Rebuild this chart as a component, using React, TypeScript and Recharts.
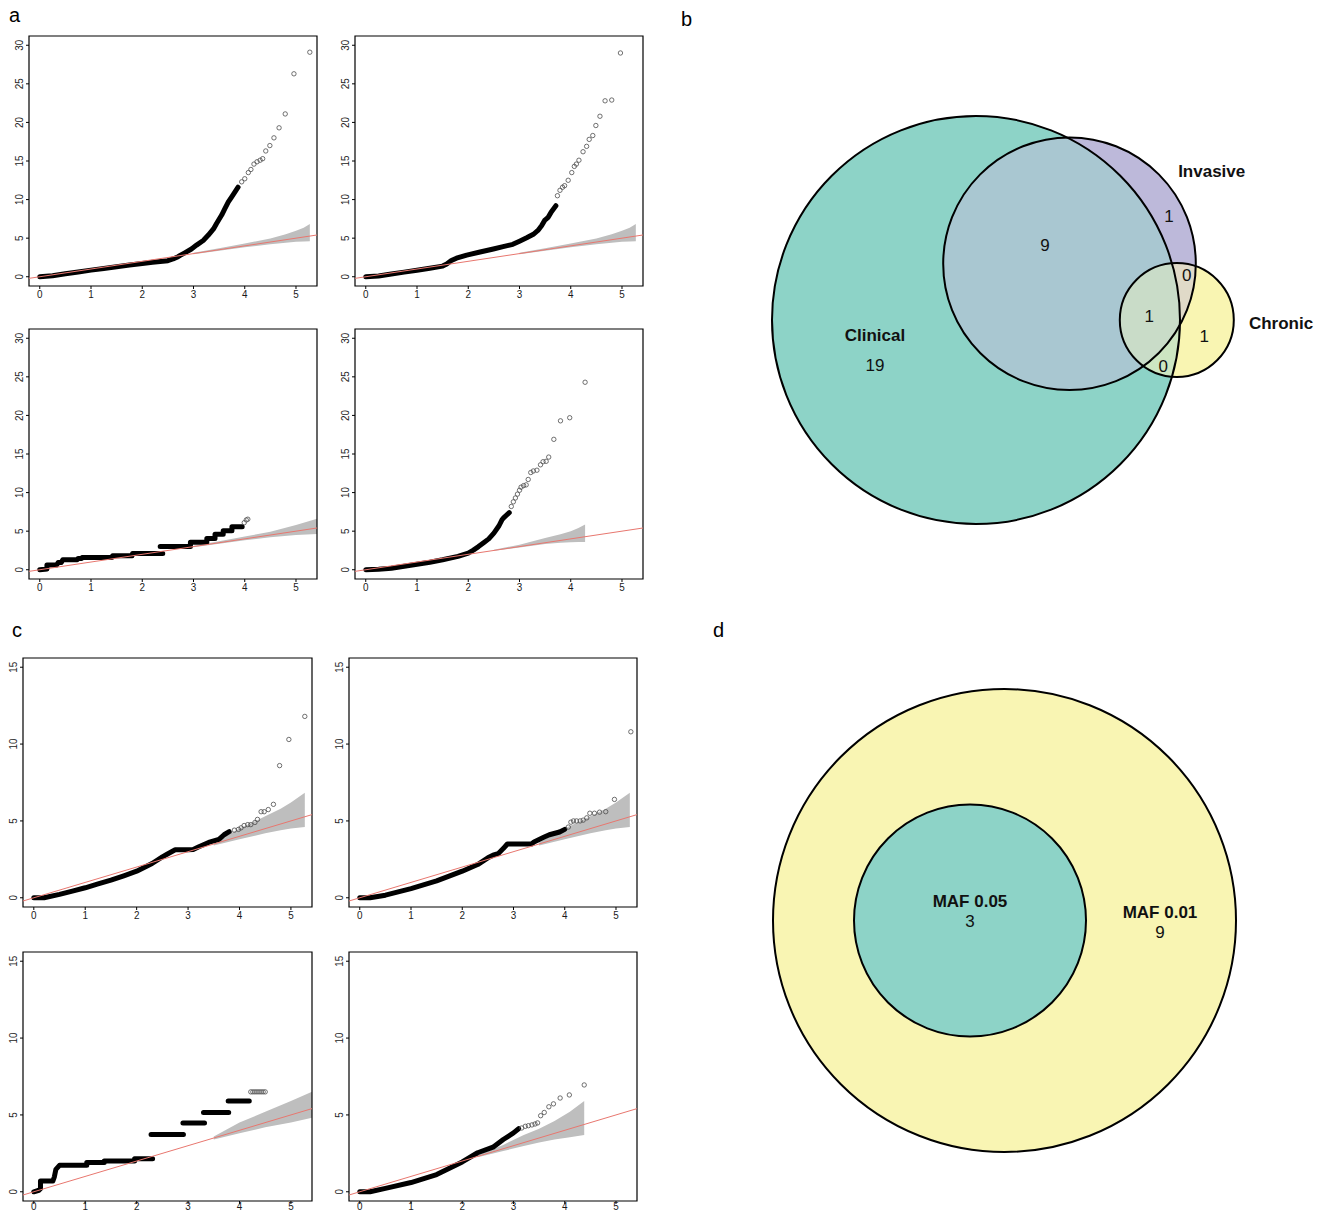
import React from "react"
import {
  ComposedChart, ScatterChart, Scatter, Line, Area,
  XAxis, YAxis, ReferenceArea,
} from "recharts"

// ─── Shared style ─────────────────────────────────────────────────────────────
const FONT = '"Liberation Sans", Arial, Helvetica, sans-serif'
const RED = "#e8776f"
const BAND = "#bebebe"
const TAIL = "#4d4d4d"
const PAGE_H = 1211

// ─── QQ axes ──────────────────────────────────────────────────────────────────
const X_DOMAIN: [number, number] = [-0.21, 5.41]
const X_TICKS = [0, 1, 2, 3, 4, 5]
const Y_DOMAIN_A: [number, number] = [-1.2, 31.2]
const Y_TICKS_A = [0, 5, 10, 15, 20, 25, 30]
const Y_DOMAIN_C: [number, number] = [-0.6, 15.6]
const Y_TICKS_C = [0, 5, 10, 15]

// y = x reference line
const ABLINE: [number, number][] = [[-0.21, -0.21], [5.41, 5.41]]

type Pt = [number, number | null]
type Band = [number, number, number]

// ─── Panel a (observed vs expected -log10 p) ──────────────────────────────────
const aTLDense: Pt[] = [
  [0, 0], [0.25, 0.12], [0.5, 0.38], [0.75, 0.62], [1, 0.86], [1.25, 1.08], [1.5, 1.3],
  [1.75, 1.52], [2, 1.72], [2.2, 1.88], [2.4, 2.0], [2.5, 2.08], [2.6, 2.3], [2.7, 2.6],
  [2.74, 2.76], [2.83, 3.1], [2.96, 3.6], [3.06, 4.1], [3.19, 4.7], [3.29, 5.4], [3.39, 6.2],
  [3.45, 6.9], [3.55, 8.0], [3.61, 8.8], [3.68, 9.7], [3.74, 10.3], [3.81, 11.0], [3.87, 11.6],
]
const aTLTail: Pt[] = [
  [3.94, 12.3], [4.0, 12.7], [4.07, 13.5], [4.12, 13.9], [4.18, 14.6], [4.24, 14.9],
  [4.3, 15.1], [4.35, 15.3], [4.41, 16.3], [4.49, 17.0], [4.57, 18.0], [4.67, 19.3],
  [4.79, 21.1], [4.96, 26.3], [5.27, 29.1],
]
const aTLBand: Band[] = [
  [3.0, 2.92, 3.1], [3.5, 3.38, 3.68], [4.0, 3.82, 4.3], [4.5, 4.22, 4.95],
  [4.8, 4.42, 5.5], [5.0, 4.52, 5.95], [5.15, 4.58, 6.35], [5.27, 4.6, 6.85],
]

const aTRDense: Pt[] = [
  [0, 0], [0.25, 0.1], [0.5, 0.35], [0.75, 0.6], [1, 0.85], [1.25, 1.1], [1.5, 1.38],
  [1.58, 1.65], [1.67, 2.1], [1.77, 2.4], [1.97, 2.8], [2.23, 3.2], [2.49, 3.6], [2.68, 3.9],
  [2.87, 4.2], [3.0, 4.6], [3.14, 5.05], [3.27, 5.5], [3.36, 6.0], [3.43, 6.6], [3.49, 7.3],
  [3.56, 7.7], [3.62, 8.4], [3.71, 9.2],
]
const aTRTail: Pt[] = [
  [3.74, 10.5], [3.79, 11.2], [3.84, 11.6], [3.88, 11.8], [3.95, 12.5], [4.02, 13.5],
  [4.07, 14.3], [4.11, 14.6], [4.16, 15.1], [4.24, 16.2], [4.31, 16.9], [4.36, 17.8],
  [4.43, 18.3], [4.49, 19.6], [4.57, 20.8], [4.67, 22.8], [4.8, 22.9], [4.97, 29.0],
]
const aTRBand: Band[] = aTLBand

const aBLDense: Pt[] = [
  [0, 0], [0.1, 0.05], [0.14, 0.1], [0.14, 0.6], [0.33, 0.6], [0.36, 0.95], [0.42, 0.95],
  [0.45, 1.3], [0.73, 1.3], [0.75, 1.47], [0.82, 1.47], [0.83, 1.6], [1.41, 1.6], [1.42, 1.8],
  [1.8, 1.8], [1.81, 2.1], [2.4, 2.1], [2.4, null],
  [2.35, 3.0], [2.94, 3.0], [2.94, 3.55], [3.26, 3.55], [3.26, 4.06], [3.42, 4.06],
  [3.42, 4.6], [3.58, 4.6], [3.58, 5.06], [3.75, 5.06], [3.75, 5.58], [3.95, 5.58],
]
const aBLTail: Pt[] = [[3.99, 6.1], [4.03, 6.45], [4.06, 6.55]]
const aBLBand: Band[] = [
  [3.0, 2.92, 3.1], [3.5, 3.38, 3.68], [4.0, 3.82, 4.3], [4.5, 4.22, 4.92],
  [5.0, 4.5, 5.8], [5.41, 4.62, 6.6],
]

const aBRDense: Pt[] = [
  [0, 0], [0.25, 0.05], [0.5, 0.2], [0.75, 0.45], [1, 0.7], [1.25, 0.98], [1.5, 1.3],
  [1.8, 1.73], [2.0, 2.16], [2.1, 2.55], [2.2, 3.0], [2.3, 3.5], [2.4, 4.0], [2.5, 4.75],
  [2.6, 5.7], [2.66, 6.5], [2.7, 6.8], [2.8, 7.4],
]
const aBRTail: Pt[] = [
  [2.84, 8.2], [2.88, 8.8], [2.92, 9.3], [2.96, 9.8], [3.0, 10.3], [3.03, 10.7], [3.08, 10.9],
  [3.13, 11.0], [3.17, 11.7], [3.22, 12.6], [3.27, 12.8], [3.34, 12.9], [3.41, 13.6],
  [3.46, 14.0], [3.52, 14.05], [3.57, 14.6], [3.67, 16.9], [3.8, 19.3], [3.98, 19.7], [4.28, 24.3],
]
const aBRBand: Band[] = [
  [2.5, 2.45, 2.6], [3.0, 2.88, 3.25], [3.5, 3.35, 4.1], [3.8, 3.5, 4.6],
  [4.0, 3.55, 5.0], [4.15, 3.6, 5.4], [4.28, 3.6, 5.85],
]

// ─── Panel c ──────────────────────────────────────────────────────────────────
const cTLDense: Pt[] = [
  [0, 0], [0.2, 0], [0.5, 0.22], [0.75, 0.43], [1, 0.65], [1.25, 0.9], [1.5, 1.15],
  [1.75, 1.43], [2, 1.73], [2.3, 2.23], [2.5, 2.66], [2.6, 2.85], [2.75, 3.12], [3.0, 3.12],
  [3.1, 3.14], [3.2, 3.3], [3.4, 3.6], [3.6, 3.8], [3.7, 4.1], [3.8, 4.3],
]
const cTLTail: Pt[] = [
  [3.9, 4.4], [3.98, 4.45], [4.03, 4.55], [4.09, 4.7], [4.16, 4.76], [4.22, 4.76], [4.3, 4.9],
  [4.35, 5.1], [4.42, 5.6], [4.48, 5.6], [4.56, 5.74], [4.66, 6.08], [4.78, 8.6], [4.96, 10.3],
  [5.27, 11.8],
]
const cTLBand: Band[] = [
  [3.5, 3.4, 3.6], [4.0, 3.8, 4.5], [4.5, 4.2, 5.3], [4.8, 4.4, 5.8], [5.0, 4.5, 6.2], [5.27, 4.6, 6.84],
]

const cTRDense: Pt[] = [
  [0, 0], [0.2, 0], [0.5, 0.17], [1, 0.6], [1.5, 1.1], [2, 1.73], [2.3, 2.16], [2.5, 2.6],
  [2.6, 2.77], [2.7, 2.87], [2.8, 3.2], [2.88, 3.5], [3.35, 3.5], [3.4, 3.63], [3.6, 3.95],
  [3.7, 4.1], [3.9, 4.28], [4.0, 4.45],
]
const cTRTail: Pt[] = [
  [4.07, 4.6], [4.12, 4.92], [4.17, 5.0], [4.23, 5.0], [4.3, 5.0], [4.36, 5.05], [4.43, 5.2],
  [4.49, 5.5], [4.58, 5.5], [4.68, 5.57], [4.8, 5.6], [4.97, 6.4], [5.29, 10.8],
]
const cTRBand: Band[] = cTLBand

const cBLDense: Pt[] = [
  [0, 0], [0.1, 0.1], [0.13, 0.2], [0.13, 0.7], [0.37, 0.7], [0.4, 0.97], [0.43, 1.46],
  [0.5, 1.72], [1.03, 1.72], [1.03, 1.9], [1.37, 1.9], [1.37, 2.0], [1.96, 2.0], [1.96, 2.15],
  [2.31, 2.15], [2.31, null],
  [2.28, 3.72], [2.91, 3.72], [2.91, null],
  [2.9, 4.48], [3.32, 4.48], [3.32, null],
  [3.3, 5.16], [3.79, 5.16], [3.79, null],
  [3.78, 5.9], [4.19, 5.9],
]
const cBLTail: Pt[] = [
  [4.22, 6.5], [4.26, 6.5], [4.3, 6.5], [4.34, 6.5], [4.38, 6.5], [4.42, 6.5], [4.46, 6.5], [4.5, 6.5],
]
const cBLBand: Band[] = [
  [3.5, 3.4, 3.6], [4.0, 3.8, 4.5], [4.5, 4.2, 5.2], [5.0, 4.5, 5.9], [5.41, 4.82, 6.5],
]

const cBRDense: Pt[] = [
  [0, 0], [0.2, 0], [0.5, 0.22], [1, 0.6], [1.5, 1.12], [2, 1.94], [2.3, 2.54], [2.6, 2.9],
  [2.8, 3.4], [3.0, 3.83], [3.1, 4.1],
]
const cBRTail: Pt[] = [
  [3.16, 4.15], [3.23, 4.26], [3.29, 4.3], [3.36, 4.35], [3.42, 4.41], [3.47, 4.48], [3.53, 4.95],
  [3.6, 5.16], [3.69, 5.53], [3.78, 5.72], [3.91, 6.1], [4.09, 6.3], [4.38, 6.95],
]
const cBRBand: Band[] = [
  [2.3, 2.25, 2.38], [2.8, 2.65, 3.05], [3.2, 2.98, 3.7], [3.5, 3.2, 4.1],
  [3.8, 3.4, 4.6], [4.1, 3.55, 5.2], [4.38, 3.7, 5.9],
]

// ─── Venn b (Clinical / Invasive / Chronic) ───────────────────────────────────
const VB_X_DOMAIN: [number, number] = [0, 600]
const VB_Y_DOMAIN: [number, number] = [0, 470]
const VENN_B_SETS = [
  { name: "Clinical", x: 246, y: 230, r: 204 },
  { name: "Invasive", x: 339.5, y: 286.3, r: 126.3 },
  { name: "Chronic", x: 446.8, y: 230, r: 57 },
]
const VENN_B_FILLS: Record<string, string> = {
  "0": "#8dd3c7", "1": "#bdb9da", "2": "#f9f5b2",
  "01": "#a9c7d1", "02": "#cde6c2", "12": "#e0dac8", "012": "#c9dcc8",
}
const VENN_B_LABELS = [
  { text: "Clinical", x: 145, y: 215, bold: true },
  { text: "19", x: 145, y: 185 },
  { text: "Invasive", x: 481.7, y: 378.3, bold: true },
  { text: "Chronic", x: 551, y: 227, bold: true },
  { text: "9", x: 315, y: 304.3 },
  { text: "1", x: 439, y: 334 },
  { text: "0", x: 456.7, y: 275 },
  { text: "1", x: 419.3, y: 234 },
  { text: "1", x: 474.3, y: 214 },
  { text: "0", x: 433.3, y: 183.3 },
]

// ─── Venn d (MAF 0.01 / MAF 0.05) ─────────────────────────────────────────────
const VD_X_DOMAIN: [number, number] = [0, 600]
const VD_Y_DOMAIN: [number, number] = [0, 540]
const VENN_D_SETS = [
  { name: "MAF 0.01", x: 274.5, y: 259.5, r: 231.5 },
  { name: "MAF 0.05", x: 240, y: 259.5, r: 116 },
]
const VENN_D_FILLS: Record<string, string> = { "0": "#f9f5b3", "1": "#8dd3c7", "01": "#8dd3c7" }
const VENN_D_LABELS = [
  { text: "MAF 0.05", x: 240, y: 279, bold: true },
  { text: "3", x: 240, y: 259 },
  { text: "MAF 0.01", x: 430, y: 268, bold: true },
  { text: "9", x: 430, y: 248 },
]

// ─── QQ plot ──────────────────────────────────────────────────────────────────
const Y_W = 30
const X_H = 22
const M_TOP = 6
const M_RIGHT = 10

const toPts = (a: Pt[]) => a.map(([x, y]) => ({ x, y }))
const toBand = (a: Band[]) => a.map(([x, lo, hi]) => ({ x, range: [lo, hi] }))

interface Box { left: number; top: number; w: number; h: number }
interface QQProps {
  box: Box
  yDomain: [number, number]
  yTicks: number[]
  dense: Pt[]
  tail: Pt[]
  band: Band[]
}

function TailCircle(p: any) {
  if (p.cx == null || p.cy == null) return <g />
  return <circle cx={p.cx} cy={p.cy} r={2.2} fill="none" stroke={TAIL} strokeWidth={0.8} />
}

function QQPlot({ box, yDomain, yTicks, dense, tail, band }: QQProps) {
  const W = Y_W + box.w + M_RIGHT
  const H = M_TOP + box.h + X_H
  const plotBottom = M_TOP + box.h
  // bottom row sits at the page edge: keep its tick labels inside the page
  const labelY = Math.min(plotBottom + 11.5, PAGE_H - 1.5 - (box.top - M_TOP))

  const xTick = (p: any) => (
    <text
      transform={`translate(${p.x},${labelY}) scale(0.9,1)`}
      textAnchor="middle" fontSize={11} fill="#1a1a1a" fontFamily={FONT}
    >
      {p.payload.value}
    </text>
  )
  const yTick = (p: any) => (
    <text
      transform={`translate(${Y_W - 10},${p.y}) rotate(-90) scale(0.9,1)`}
      textAnchor="middle" dominantBaseline="central" fontSize={11} fill="#1a1a1a" fontFamily={FONT}
    >
      {p.payload.value}
    </text>
  )

  return (
    <div style={{ position: "absolute", left: box.left - Y_W, top: box.top - M_TOP, width: W, height: H }}>
      <ComposedChart width={W} height={H} margin={{ top: M_TOP, right: M_RIGHT, bottom: 0, left: 0 }}>
        <XAxis
          type="number" dataKey="x" domain={X_DOMAIN} ticks={X_TICKS} interval={0}
          allowDataOverflow height={X_H} axisLine={false}
          tickLine={{ stroke: "#000" }} tickSize={3} tick={xTick}
        />
        <YAxis
          type="number" dataKey="y" domain={yDomain} ticks={yTicks} interval={0}
          allowDataOverflow width={Y_W} axisLine={false}
          tickLine={{ stroke: "#000" }} tickSize={3} tick={yTick}
        />
        <Area
          data={toBand(band)} dataKey="range" type="linear"
          stroke="none" fill={BAND} fillOpacity={1} isAnimationActive={false}
        />
        <Line
          data={toPts(dense)} dataKey="y" type="linear" dot={false}
          stroke="#000" strokeWidth={5} strokeLinecap="round" strokeLinejoin="round"
          connectNulls={false} isAnimationActive={false}
        />
        <Scatter data={toPts(tail)} dataKey="y" shape={TailCircle} isAnimationActive={false} />
        <Line
          data={toPts(ABLINE)} dataKey="y" type="linear" dot={false}
          stroke={RED} strokeWidth={1} isAnimationActive={false}
        />
        <ReferenceArea
          x1={X_DOMAIN[0]} x2={X_DOMAIN[1]} y1={yDomain[0]} y2={yDomain[1]}
          fill="none" fillOpacity={0} stroke="#000" strokeWidth={1.2}
        />
      </ComposedChart>
    </div>
  )
}

// ─── Venn ─────────────────────────────────────────────────────────────────────
interface VennSet { name: string; x: number; y: number; r: number }

function makeFillShape(sets: VennSet[], fills: Record<string, string>, k: number, id: string) {
  return (p: any) => {
    const i: number = p.payload.idx
    const s = sets[i]
    const { cx, cy } = p
    const r = s.r * k
    const others = sets.slice(0, i).map((o, j) => ({
      j, cx: cx + (o.x - s.x) * k, cy: cy - (o.y - s.y) * k, r: o.r * k,
    }))
    const subsets: number[][] = []
    for (let m = 1; m < 1 << i; m++) {
      const sub: number[] = []
      for (let j = 0; j < i; j++) if (m & (1 << j)) sub.push(j)
      subsets.push(sub)
    }
    subsets.sort((a, b) => a.length - b.length)
    return (
      <g>
        <defs>
          {others.map((o) => (
            <clipPath id={`${id}-${i}-${o.j}`} key={o.j}>
              <circle cx={o.cx} cy={o.cy} r={o.r} />
            </clipPath>
          ))}
        </defs>
        <circle cx={cx} cy={cy} r={r} fill={fills[String(i)]} />
        {subsets.map((sub) => {
          const key = [...sub, i].sort().join("")
          let el = <circle cx={cx} cy={cy} r={r} fill={fills[key]} />
          for (const j of sub) el = <g clipPath={`url(#${id}-${i}-${j})`}>{el}</g>
          return <g key={key}>{el}</g>
        })}
      </g>
    )
  }
}

function makeOutlineShape(sets: VennSet[], k: number) {
  return (p: any) => (
    <circle cx={p.cx} cy={p.cy} r={sets[p.payload.idx].r * k} fill="none" stroke="#000" strokeWidth={2} />
  )
}

function VennText(p: any) {
  return (
    <text
      x={p.cx} y={p.cy} textAnchor="middle" dominantBaseline="central"
      fontSize={17} fontWeight={p.payload.bold ? 700 : 400} fontFamily={FONT} fill="#111"
    >
      {p.payload.text}
    </text>
  )
}

interface VennProps {
  id: string
  left: number
  top: number
  width: number
  height: number
  xDomain: [number, number]
  yDomain: [number, number]
  sets: VennSet[]
  fills: Record<string, string>
  labels: { text: string; x: number; y: number; bold?: boolean }[]
}

function Venn({ id, left, top, width, height, xDomain, yDomain, sets, fills, labels }: VennProps) {
  const k = width / (xDomain[1] - xDomain[0])
  const data = sets.map((s, idx) => ({ ...s, idx }))
  return (
    <div style={{ position: "absolute", left, top, width, height }}>
      <ScatterChart width={width} height={height} margin={{ top: 0, right: 0, bottom: 0, left: 0 }}>
        <XAxis type="number" dataKey="x" domain={xDomain} hide />
        <YAxis type="number" dataKey="y" domain={yDomain} hide />
        <Scatter data={data} shape={makeFillShape(sets, fills, k, id)} isAnimationActive={false} />
        <Scatter data={data} shape={makeOutlineShape(sets, k)} isAnimationActive={false} />
        <Scatter data={labels} shape={VennText} isAnimationActive={false} />
      </ScatterChart>
    </div>
  )
}

// ─── Figure ───────────────────────────────────────────────────────────────────
export default function App() {
  return (
    <div
      style={{
        position: "absolute", left: 0, top: 0, width: 1331, height: PAGE_H,
        overflow: "hidden", background: "#fff", fontFamily: FONT,
      }}
    >
      <QQPlot box={{ left: 29, top: 36, w: 288, h: 250 }} yDomain={Y_DOMAIN_A} yTicks={Y_TICKS_A} dense={aTLDense} tail={aTLTail} band={aTLBand} />
      <QQPlot box={{ left: 355, top: 36, w: 288, h: 250 }} yDomain={Y_DOMAIN_A} yTicks={Y_TICKS_A} dense={aTRDense} tail={aTRTail} band={aTRBand} />
      <QQPlot box={{ left: 29, top: 329, w: 288, h: 250 }} yDomain={Y_DOMAIN_A} yTicks={Y_TICKS_A} dense={aBLDense} tail={aBLTail} band={aBLBand} />
      <QQPlot box={{ left: 355, top: 329, w: 288, h: 250 }} yDomain={Y_DOMAIN_A} yTicks={Y_TICKS_A} dense={aBRDense} tail={aBRTail} band={aBRBand} />

      <QQPlot box={{ left: 23, top: 658, w: 289, h: 249 }} yDomain={Y_DOMAIN_C} yTicks={Y_TICKS_C} dense={cTLDense} tail={cTLTail} band={cTLBand} />
      <QQPlot box={{ left: 349, top: 658, w: 288, h: 249 }} yDomain={Y_DOMAIN_C} yTicks={Y_TICKS_C} dense={cTRDense} tail={cTRTail} band={cTRBand} />
      <QQPlot box={{ left: 23, top: 952, w: 289, h: 249 }} yDomain={Y_DOMAIN_C} yTicks={Y_TICKS_C} dense={cBLDense} tail={cBLTail} band={cBLBand} />
      <QQPlot box={{ left: 349, top: 952, w: 288, h: 249 }} yDomain={Y_DOMAIN_C} yTicks={Y_TICKS_C} dense={cBRDense} tail={cBRTail} band={cBRBand} />

      <Venn
        id="vb" left={730} top={80} width={600} height={470}
        xDomain={VB_X_DOMAIN} yDomain={VB_Y_DOMAIN}
        sets={VENN_B_SETS} fills={VENN_B_FILLS} labels={VENN_B_LABELS}
      />
      <Venn
        id="vd" left={730} top={640} width={600} height={540}
        xDomain={VD_X_DOMAIN} yDomain={VD_Y_DOMAIN}
        sets={VENN_D_SETS} fills={VENN_D_FILLS} labels={VENN_D_LABELS}
      />

      {/* panel letters */}
      <svg width={1331} height={PAGE_H} style={{ position: "absolute", left: 0, top: 0, pointerEvents: "none" }}>
        <text x={9} y={21.5} fontSize={20} fontFamily={FONT} fill="#000">a</text>
        <text x={681} y={25.5} fontSize={20} fontFamily={FONT} fill="#000">b</text>
        <text x={12} y={637} fontSize={20} fontFamily={FONT} fill="#000">c</text>
        <text x={713} y={637} fontSize={20} fontFamily={FONT} fill="#000">d</text>
      </svg>
    </div>
  )
}
